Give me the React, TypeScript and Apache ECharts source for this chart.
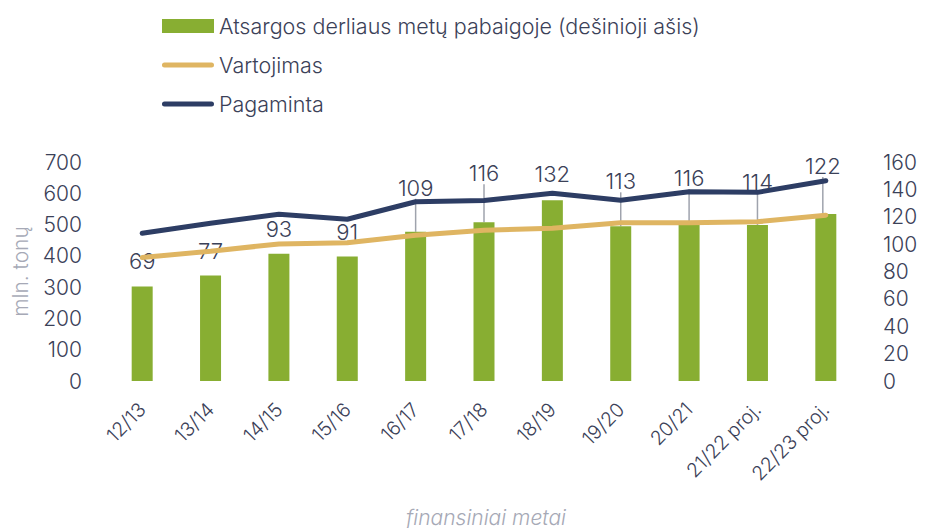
import React, { useEffect, useRef } from "react";
import * as echarts from "echarts";

const categories = ["12/13", "13/14", "14/15", "15/16", "16/17", "17/18", "18/19", "19/20", "20/21", "21/22 proj.", "22/23 proj."];
const stocks = [69, 77, 93, 91, 109, 116, 132, 113, 116, 114, 122];
const consumption = [395, 415, 438, 442, 466, 482, 488, 506, 506, 509, 530];
const production = [472, 504, 533, 517, 573, 577, 600, 578, 605, 603, 640];
const leftTicks = [0, 100, 200, 300, 400, 500, 600, 700];
const rightTicks = [0, 20, 40, 60, 80, 100, 120, 140, 160];

// label layout (styling only)
const LABEL_DY = [-10, -9, -9, -8, -28, -33, -10, -29, -28, -27, -32];
const LABEL_DX = [0, 0, 0, 0, 0, 0, 0, 0, 0, 0, -3];
const LABEL_LINE = [false, false, false, false, true, true, false, true, true, true, true];

const TEXT = "#3b4158";
const MUTED = "#a6a9b6";
const FONT = "Inter";
const LINE_ICON = "path://M2.5,0 H49.5 A2.5,2.5 0 0 1 49.5,5 H2.5 A2.5,2.5 0 0 1 2.5,0 Z";

export default function App() {
  const ref = useRef<HTMLDivElement>(null);
  useEffect(() => {
    if (!ref.current) return;
    const chart = echarts.init(ref.current, undefined, { renderer: "svg" });
    chart.setOption({
      animation: false,
      textStyle: { fontFamily: FONT, fontWeight: 300 },
      legend: {
        orient: "vertical",
        left: 157,
        top: 9,
        itemWidth: 52,
        itemHeight: 14,
        itemGap: 15,
        textStyle: { fontSize: 21.5, color: TEXT, fontFamily: FONT, fontWeight: 300, lineHeight: 24 },
        data: [
          { name: "Atsargos derliaus metų pabaigoje (dešinioji ašis)", icon: "rect" },
          { name: "Vartojimas", icon: LINE_ICON },
          { name: "Pagaminta", icon: LINE_ICON },
        ],
      },
      grid: { left: 108, right: 67, top: 162, bottom: 147 },
      xAxis: {
        type: "category",
        data: categories,
        axisLine: { show: false },
        axisTick: { show: false },
        axisLabel: { rotate: 45, fontSize: 19.5, color: TEXT, fontFamily: FONT, fontWeight: 300, margin: 25, interval: 0 },
      },
      yAxis: [
        {
          type: "value",
          min: leftTicks[0],
          max: leftTicks[leftTicks.length - 1],
          interval: 100,
          splitLine: { show: false },
          axisLine: { show: false },
          axisTick: { show: false },
          axisLabel: { fontSize: 21, color: TEXT, fontFamily: FONT, fontWeight: 300, margin: 26 },
          name: "mln. tonų",
          nameLocation: "middle",
          nameGap: 77,
          nameRotate: 90,
          nameTextStyle: { fontSize: 21, color: MUTED, fontFamily: FONT, fontWeight: 300 },
        },
        {
          type: "value",
          min: rightTicks[0],
          max: rightTicks[rightTicks.length - 1],
          interval: 20,
          splitLine: { show: false },
          axisLine: { show: false },
          axisTick: { show: false },
          axisLabel: { fontSize: 21, color: TEXT, fontFamily: FONT, fontWeight: 300, margin: 23 },
        },
      ],
      series: [
        {
          name: "Atsargos derliaus metų pabaigoje (dešinioji ašis)",
          type: "bar",
          yAxisIndex: 1,
          barWidth: 21,
          z: 1,
          itemStyle: { color: "#88ae32" },
          data: stocks.map((v, i) => ({ value: v, labelLine: { show: LABEL_LINE[i] } })),
          label: {
            show: true,
            position: "top",
            distance: 5,
            fontSize: 22,
            color: TEXT,
            fontFamily: FONT,
            fontWeight: 300,
          },
          labelLine: { show: true, lineStyle: { color: "#9fa3ad", width: 1.5 } },
          labelLayout: (p: any) => ({ dy: LABEL_DY[p.dataIndex], dx: LABEL_DX[p.dataIndex] }),
        },
        {
          name: "Vartojimas",
          type: "line",
          yAxisIndex: 0,
          symbol: "none",
          z: 3,
          lineStyle: { color: "#dfb562", width: 5, cap: "round" },
          itemStyle: { color: "#dfb562" },
          data: consumption,
        },
        {
          name: "Pagaminta",
          type: "line",
          yAxisIndex: 0,
          symbol: "none",
          z: 3,
          lineStyle: { color: "#2d3d64", width: 5, cap: "round" },
          itemStyle: { color: "#2d3d64" },
          data: production,
        },
      ],
      graphic: [
        {
          type: "text",
          x: 486,
          y: 517,
          style: {
            text: "finansiniai metai",
            fontSize: 21,
            fontStyle: "italic",
            fill: MUTED,
            fontFamily: FONT,
            fontWeight: 300,
            align: "center",
            verticalAlign: "middle",
          },
        },
      ],
    });
    return () => chart.dispose();
  }, []);
  return <div ref={ref} style={{ position: "absolute", left: 0, top: 0, width: 927, height: 528 }} />;
}
